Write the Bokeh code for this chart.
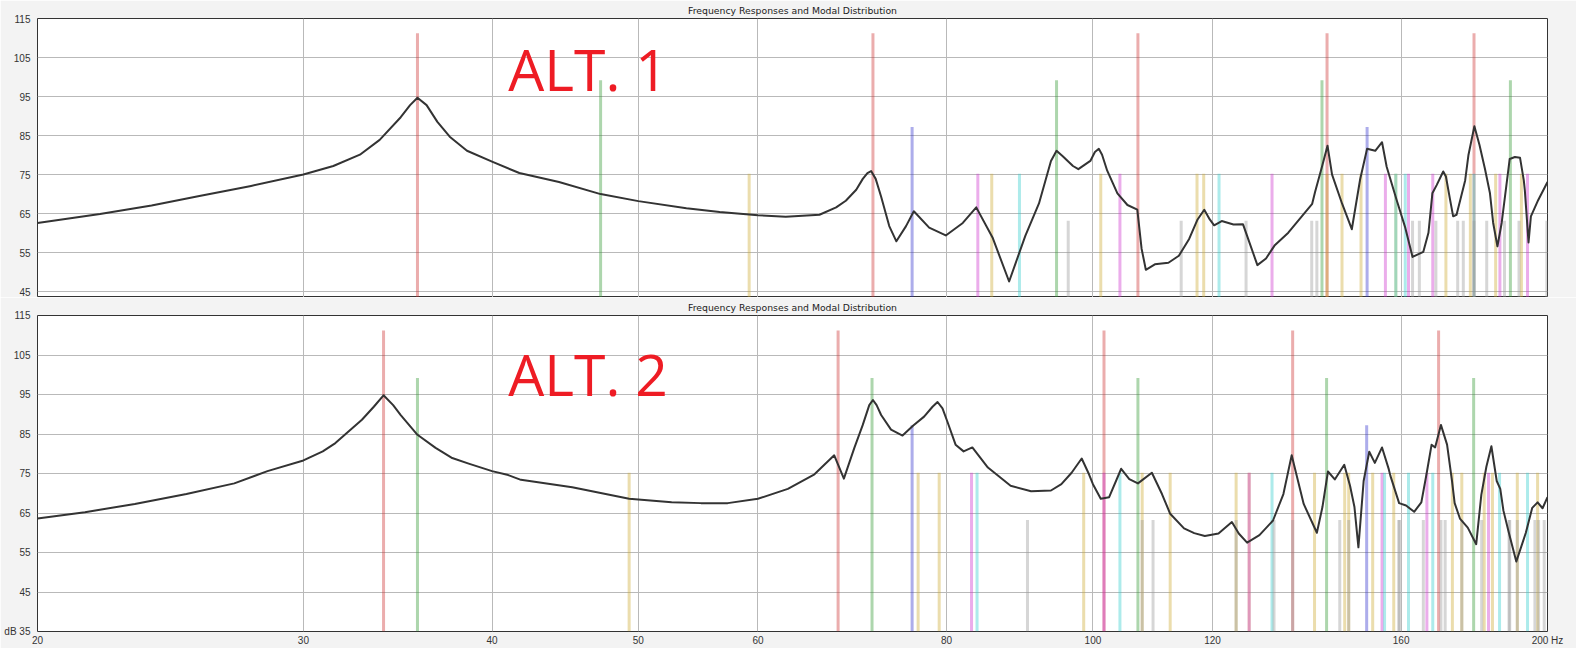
from bokeh.plotting import figure
from bokeh.models import FixedTicker, Label, ColumnDataSource, BasicTickFormatter
from bokeh.layouts import column
from bokeh.embed import file_html
from bokeh.resources import INLINE

# ---------------- data ----------------
title_text = "Frequency Responses and Modal Distribution"
x_ticks = [20, 30, 40, 50, 60, 80, 100, 120, 160, 200]
y_ticks = [35, 45, 55, 65, 75, 85, 95, 105, 115]
y_floor = 35

mode_types = ["axial_l", "axial_w", "axial_h", "tang_lw", "tang_lh", "tang_wh", "oblique"]
mode_levels = {"axial_l": 111.2, "axial_w": 99.2, "axial_h": 87.2,
               "tang_lw": 75.2, "tang_lh": 75.2, "tang_wh": 75.2, "oblique": 63.2}
mode_colors = {"axial_l": "#cc3333", "axial_w": "#339933", "axial_h": "#3333cc",
               "tang_lw": "#ccaa33", "tang_lh": "#cc33cc", "tang_wh": "#33cccc", "oblique": "#999999"}

# ALT. 1 modes (Hz)
alt1_axial_l = [35.7, 71.5, 107.1, 142.9, 178.8]
alt1_axial_w = [47.2, 94.6, 141.8, 189.0]
alt1_axial_h = [75.9, 151.9]
alt1_tang_lw = [59.2, 85.7, 101.2, 117.2, 118.4, 142.9, 146.2, 150.5, 158.7, 171.3, 177.8, 184.8, 192.2]
alt1_tang_lh = [83.9, 104.2, 131.4, 156.2, 161.8, 167.9, 186.0, 194.0]
alt1_tang_wh = [89.4, 121.2, 158.7, 161.0, 178.8]
alt1_oblique = [96.3, 114.4, 126.3, 139.6, 140.7, 162.8, 164.5, 168.7, 174.4, 175.9, 178.8,
                182.3, 187.3, 191.5, 199.8]

# ALT. 1 response (Hz, dB)
alt1_freq = [20.0, 22.0, 23.8, 25.6, 27.7, 30.0, 31.4, 32.7, 33.7, 34.8, 35.3, 35.7, 36.2, 36.8,
             37.5, 38.5, 40.0, 41.7, 44.3, 47.2, 50.0, 53.8, 56.6, 60.0, 62.6, 65.9, 67.6, 68.6,
             69.7, 70.4, 70.9, 71.3, 71.8, 72.4, 73.3, 74.1, 75.2, 76.1, 77.9, 79.9, 82.0, 83.7,
             85.8, 88.0, 90.2, 92.1, 93.8, 94.6, 95.5, 97.0, 97.8, 99.6, 100.3, 100.9, 101.4,
             102.2, 103.8, 105.4, 107.0, 107.7, 108.4, 109.9, 112.2, 114.0, 115.8, 117.3, 118.5,
             119.5, 120.3, 121.7, 123.9, 125.7, 126.5, 128.5, 130.2, 131.9, 134.7, 137.5, 139.7,
             140.3, 141.8, 143.0, 144.0, 146.2, 148.4, 150.3, 151.9, 153.8, 155.4, 156.5, 158.9,
             161.0, 162.8, 165.5, 166.8, 167.8, 168.9, 170.6, 171.3, 172.4, 173.2, 174.1, 176.4,
             177.3, 178.9, 180.3, 181.8, 183.2, 184.1, 185.3, 186.5, 187.9, 188.8, 190.3, 191.8,
             192.9, 193.2, 194.3, 195.0, 197.2, 200.0]
alt1_spl = [62.6, 64.9, 67.1, 69.5, 72.1, 75.0, 77.2, 80.1, 83.9, 89.7, 92.8, 94.7, 92.8, 88.5,
            84.7, 81.1, 78.3, 75.4, 73.1, 70.0, 68.2, 66.4, 65.4, 64.6, 64.2, 64.7, 66.6, 68.3,
            71.1, 73.9, 75.4, 75.9, 73.9, 69.3, 61.8, 57.9, 61.8, 65.6, 61.4, 59.4, 62.6, 66.6,
            58.9, 47.6, 59.3, 67.6, 78.5, 81.1, 79.7, 77.2, 76.4, 78.5, 80.8, 81.6, 80.1,
            76.0, 70.2, 67.2, 66.0, 56.0, 50.6, 52.0, 52.4, 54.2, 58.5, 63.5, 66.0,
            63.5, 62.0, 63.1, 62.2, 62.3, 59.3, 51.8, 53.5, 56.8, 60.1, 64.3, 67.5,
            70.5, 77.0, 82.4, 75.0, 67.6, 61.0, 73.8, 81.6, 81.1, 83.3, 77.0, 68.5,
            61.4, 53.9, 55.2, 60.1, 70.2, 72.3, 75.8, 74.5, 68.5, 64.3, 64.7, 73.5,
            80.1, 87.4, 82.6, 76.5, 70.2, 62.6, 56.6, 62.6, 72.6, 79.0, 79.5, 79.3,
            73.5, 71.0, 57.6, 64.3, 68.5, 73.1]

# ALT. 2 modes (Hz)
alt2_axial_l = [33.9, 67.8, 101.7, 135.6, 169.4]
alt2_axial_w = [35.7, 71.4, 107.1, 142.8, 178.7]
alt2_axial_h = [75.9, 151.8]
alt2_tang_lw = [49.3, 76.6, 79.1, 98.6, 107.8, 112.5, 124.4, 126.9, 140.2, 146.8, 147.7, 153.2,
                158.2, 173.0, 175.5, 181.6, 183.9, 191.0, 197.0]
alt2_tang_lh = [83.1, 101.7, 126.9, 155.4, 166.4, 182.8]
alt2_tang_wh = [83.8, 104.2, 131.4, 156.0, 161.8, 167.9, 185.9, 194.0]
alt2_oblique = [90.5, 107.8, 109.6, 124.4, 131.8, 135.6, 145.7, 147.7, 159.4, 159.6, 165.5, 170.0,
                171.1, 175.5, 180.9, 188.6, 188.8, 191.0, 196.2, 197.3, 199.0]

# ALT. 2 response (Hz, dB)
alt2_freq = [20.0, 21.5, 23.2, 25.1, 27.0, 28.4, 30.0, 30.9, 31.5, 32.8, 33.4, 33.9, 34.4, 34.8,
             35.7, 36.7, 37.6, 38.6, 40.0, 41.0, 41.8, 45.2, 49.3, 52.6, 55.0, 57.3, 60.0, 62.8,
             65.4, 67.4, 68.4, 69.5, 70.4, 71.1, 71.5, 71.9, 72.4, 73.5, 74.8, 76.0, 77.3, 78.3,
             78.9, 79.5, 80.1, 81.1, 82.1, 83.2, 85.2, 88.2, 91.0, 93.8, 95.3, 96.8, 98.3, 99.4,
             100.0, 101.2, 102.5, 104.4, 105.7, 107.1, 109.4, 111.1, 112.5, 114.9, 116.7, 118.6,
             121.1, 123.6, 124.9, 126.5, 128.9, 131.6, 133.7, 135.4, 137.9, 140.7, 141.9, 143.1,
             144.6, 146.7, 148.0, 149.0, 149.9, 151.1, 152.4, 153.7, 155.4, 157.0, 157.4, 159.5,
             161.2, 163.2, 165.0, 166.3, 167.6, 168.5, 170.0, 171.6, 172.9, 173.6, 175.0, 177.1,
             179.4, 180.8, 182.2, 183.6, 185.1, 186.1, 187.0, 188.5, 190.7, 193.5, 195.4, 197.0,
             198.5, 200.0]
alt2_spl = [63.6, 65.2, 67.3, 69.8, 72.5, 75.6, 78.3, 80.6, 82.7, 88.6, 91.9, 94.8, 92.3, 89.8,
            84.8, 81.5, 79.0, 77.5, 75.6, 74.6, 73.4, 71.5, 68.6, 67.7, 67.5, 67.5, 68.6, 71.1,
            74.8, 79.6, 73.7, 81.5, 87.3, 92.3, 93.6, 92.3, 89.8, 86.1, 84.6, 87.1, 89.4, 91.9,
            93.1, 91.5, 88.1, 82.3, 80.6, 81.6, 76.5, 71.9, 70.5, 70.7, 72.3, 75.2, 78.8, 74.8,
            72.3, 68.6, 69.0, 76.2, 73.6, 72.5, 75.2, 69.8, 64.8, 61.1, 59.9, 59.2,
            59.8, 62.7, 59.8, 57.5, 59.4, 63.1, 69.8, 79.6, 67.3, 60.0, 66.5, 75.5,
            73.5, 77.2, 71.9, 66.5, 56.3, 73.1, 80.5, 77.7, 81.6, 76.1, 74.4, 67.5,
            66.9, 65.3, 67.7, 74.8, 82.3, 81.6, 87.3, 82.3, 73.1, 67.5, 63.6, 61.3,
            57.1, 69.6, 76.7, 81.9, 73.1, 71.1, 65.6, 60.2, 52.7, 60.0, 66.3, 67.7,
            66.2, 69.0]

alt1_modes = {"axial_l": alt1_axial_l, "axial_w": alt1_axial_w, "axial_h": alt1_axial_h,
              "tang_lw": alt1_tang_lw, "tang_lh": alt1_tang_lh, "tang_wh": alt1_tang_wh,
              "oblique": alt1_oblique}
alt2_modes = {"axial_l": alt2_axial_l, "axial_w": alt2_axial_w, "axial_h": alt2_axial_h,
              "tang_lw": alt2_tang_lw, "tang_lh": alt2_tang_lh, "tang_wh": alt2_tang_wh,
              "oblique": alt2_oblique}

# ---------------- styling ----------------
BORDER = "#f3f3f3"
GRID = "#b9b9b9"
FONT = "Liberation Sans"


def build_panel(height, y_min, show_x, left, right, modes, freq, spl, alt_text, alt_x, alt_y):
    p = figure(width=1576, height=height, x_axis_type="log", x_range=(20, 200),
               y_range=(y_min, 115), output_backend="svg", toolbar_location=None,
               x_axis_location="below" if show_x else None,
               min_border_left=left, min_border_right=right, min_border_top=17,
               min_border_bottom=0,
               border_fill_color=BORDER, background_fill_color="white",
               outline_line_color="#333333", outline_line_width=1)
    p.title.text = title_text
    p.title.align = "center"
    p.title.text_font = "DejaVu Sans"
    p.title.text_font_size = "9.3px"
    p.title.text_font_style = "normal"
    p.title.text_color = "#222222"
    p.title.standoff = 5
    p.title.offset = 0

    p.xgrid.ticker = FixedTicker(ticks=x_ticks)
    p.ygrid.ticker = FixedTicker(ticks=y_ticks)
    for g in (p.xgrid, p.ygrid):
        g.grid_line_color = GRID
        g.grid_line_width = 1

    ya = p.yaxis[0]
    ya.ticker = FixedTicker(ticks=y_ticks)
    ya.axis_line_color = None
    ya.major_tick_line_color = None
    ya.minor_tick_line_color = None
    ya.major_tick_out = 0
    ya.major_tick_in = 0
    ya.minor_tick_out = 0
    ya.major_label_text_font = FONT
    ya.major_label_text_font_size = "10px"
    ya.major_label_text_color = "#333333"
    ya.major_label_standoff = 7
    if show_x:
        ya.major_label_overrides = {35: "dB 35"}
        xa = p.xaxis[0]
        xa.ticker = FixedTicker(ticks=x_ticks)
        xa.formatter = BasicTickFormatter()
        xa.major_label_overrides = {200: "200 Hz"}
        xa.axis_line_color = None
        xa.major_tick_line_color = None
        xa.minor_tick_line_color = None
        xa.major_tick_out = 0
        xa.major_tick_in = 0
        xa.minor_tick_out = 0
        xa.major_label_text_font = FONT
        xa.major_label_text_font_size = "10px"
        xa.major_label_text_color = "#333333"
        xa.major_label_standoff = 3

    for mt in mode_types:
        fs = modes[mt]
        src = ColumnDataSource(dict(f=fs, base=[y_floor] * len(fs), lvl=[mode_levels[mt]] * len(fs)))
        p.segment(x0="f", y0="base", x1="f", y1="lvl", source=src,
                  line_color=mode_colors[mt], line_alpha=0.4, line_width=3)

    p.line(freq, spl, line_color="#333333", line_width=2, line_join="round")

    p.add_layout(Label(x=alt_x, y=alt_y, text=alt_text, text_font="Open Sans",
                       text_font_size="57px", text_color="#ee1c24",
                       text_baseline="alphabetic", text_align="left"))
    return p


p1 = build_panel(297, 43.5, False, 37, 27, alt1_modes, alt1_freq, alt1_spl, "ALT. 1", 41.0, 102.0)
p2 = build_panel(351, 35, True, 35, 29, alt2_modes, alt2_freq, alt2_spl, "ALT. 2", 41.0, 100.3)

layout = column(p1, p2, spacing=0)
open("out.html", "w").write(file_html(layout, INLINE))
